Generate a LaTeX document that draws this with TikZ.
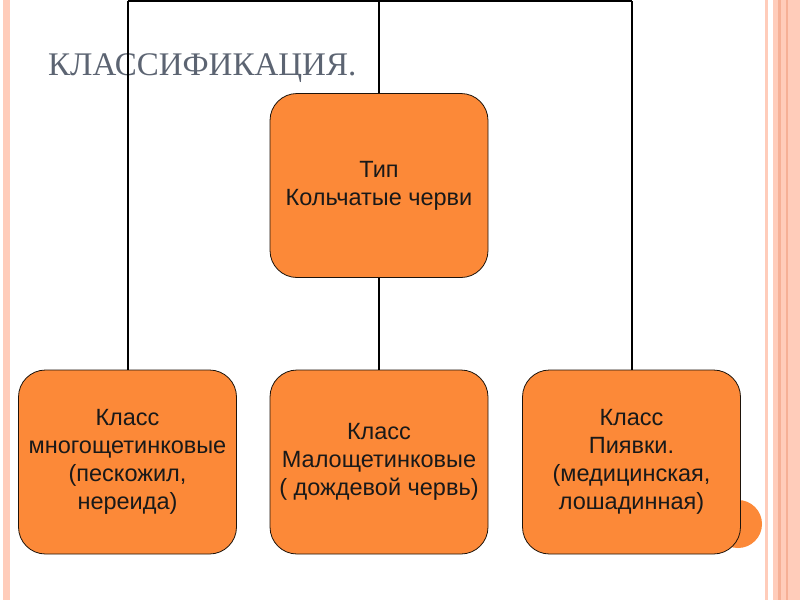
\documentclass[tikz,border=0pt]{standalone}
\usepackage{fontspec}
\setmainfont{Liberation Serif}
\newfontfamily\boxfont{Liberation Sans}
\definecolor{boxorange}{RGB}{252,137,56}
\definecolor{titlegrey}{RGB}{92,100,114}
\definecolor{stripe}{RGB}{255,204,186}
\definecolor{stripedark}{RGB}{246,176,150}
\tikzset{
  x=1pt, y=-1pt,
  classbox/.style={draw=black!85!brown, line width=0.8pt, fill=boxorange,
    rounded corners=27pt, minimum width=218pt, minimum height=184pt,
    inner sep=0pt, align=center,
    font=\boxfont\fontsize{23.5}{28}\selectfont, text=black!90},
  link/.style={line width=2pt, black}
}
\begin{document}
\begin{tikzpicture}
\useasboundingbox (0,0) rectangle (800,600);
\fill[white] (0,0) rectangle (800,600);
% side decorations
\fill[stripe] (3,0) rectangle (10,600);
\fill[stripe] (765,0) rectangle (768,600);
\fill[stripe] (773,0) rectangle (800,600);
\fill[stripedark] (778,0) rectangle (781,600);
\fill[stripedark] (786,0) rectangle (788,600);
% decorative circle
\fill[boxorange] (738,524) circle (24);
% title
\node[anchor=base west, inner sep=0pt, text=titlegrey,
  font=\fontsize{33}{38}\selectfont] (title) at (48,75) {КЛАССИФИКАЦИЯ.};
% boxes
\node[classbox] (top) at (379,185.5) {Тип\\Кольчатые черви};
\node[classbox] (left) at (127.5,462) {Класс\\многощетинковые\\(пескожил,\\нереида)};
\node[classbox] (mid) at (379,462) {Класс\\Малощетинковые\\( дождевой червь)};
\node[classbox] (right) at (631.5,462) {Класс\\Пиявки.\\(медицинская,\\лошадинная)};
% connectors
\coordinate (hub) at (379,1);
\coordinate (hl) at (127.5,1);
\coordinate (hr) at (631.5,1);
\draw[link] (top.north) -- (hub);
\draw[link] (hl) -- (hr);
\draw[link] (hl) -- (left.north);
\draw[link] (hr) -- (right.north);
\draw[link] (top.south) -- (mid.north);
\end{tikzpicture}
\end{document}
